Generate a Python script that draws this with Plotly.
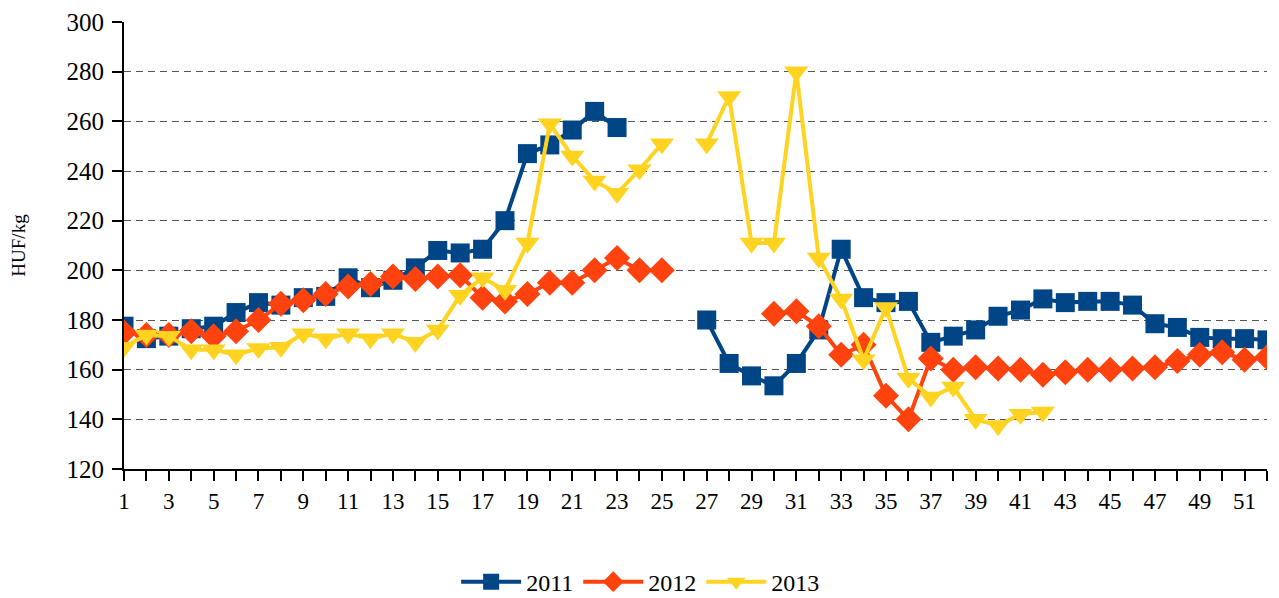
import plotly.graph_objects as go

weeks = list(range(1, 53))

y2011 = [177.5, 172.5, 173.5, 176.5, 177.5, 183, 187, 186, 189, 189.5,
         197, 193, 196, 201, 208, 207, 208.5, 220, 247, 250.5,
         256.5, 264, 257.5, None, None, None, 180, 162.5, 157.5, 153.5,
         162.5, 176, 208.5, 189, 187, 187.5, 171, 173.5, 176, 181.5,
         184, 188.5, 187, 187.5, 187.5, 186, 178.5, 177, 173, 172.5,
         172.5, 172]

y2012 = [175, 174, 174, 175.5, 173.5, 175.5, 180, 186.5, 188, 190.5,
         193.5, 194.5, 197.5, 196.5, 197.5, 198, 189, 187.5, 190.5, 195,
         195, 200, 205, 200, 200, None, None, None, None, 182.5,
         183.5, 177.5, 166, 170, 149.5, 140, 164.5, 160, 161, 160.5,
         160, 158, 159, 160, 160, 160.5, 161, 163.5, 166, 167,
         164, 165]

y2013 = [169, 174, 173.5, 168, 168, 166, 168.5, 169, 174.5, 172.5,
         174.5, 172.5, 174.5, 171, 176, 190, 197, 192, 211, 259,
         246, 236, 231, 240.5, 251, None, 251, 270, 211, 211,
         280, 205, 188.5, 164, 185, 156.5, 149, 153, 140, 137.5,
         142, 143, None, None, None, None, None, None, None, None,
         None, None]

series = [
    ("2011", y2011, "#004586", "square", 19),
    ("2012", y2012, "#FF420E", "diamond", 20),
    ("2013", y2013, "#FFD320", "triangle-down", 21),
]

tick_vals = list(range(1, 52, 2))
tick_text = [str(v) for v in tick_vals]
y_ticks = list(range(120, 301, 20))

fig = go.Figure()
for name, ys, color, symbol, size in series:
    fig.add_trace(go.Scatter(
        x=weeks, y=ys, name=name, mode="lines+markers",
        connectgaps=False,
        line=dict(color=color, width=4),
        marker=dict(symbol=symbol, size=size, color=color,
                    line=dict(width=0)),
    ))

font_family = "'Liberation Serif', 'Times New Roman', serif"

# page body has an 8px default margin, so margins are offset by 8px
fig.update_layout(
    width=1279, height=598,
    margin=dict(l=116, r=20, t=14, b=137, autoexpand=False),
    paper_bgcolor="white", plot_bgcolor="white",
    font=dict(family=font_family, color="black", size=22),
    showlegend=True,
    legend=dict(orientation="h", x=0.452, xanchor="center",
                y=-0.253, yanchor="middle",
                font=dict(size=24, family=font_family),
                itemwidth=60, bgcolor="rgba(0,0,0,0)"),
    xaxis=dict(
        range=[1, 52], tickmode="array", tickvals=tick_vals, ticktext=tick_text,
        ticks="outside", ticklen=10, tickwidth=2, tickcolor="black",
        showline=True, linecolor="black", linewidth=2,
        showgrid=False, zeroline=False, automargin=False,
        tickfont=dict(size=23, family=font_family),
        minor=dict(tickmode="linear", tick0=1, dtick=1, ticks="outside",
                   ticklen=10, tickwidth=2, tickcolor="black", showgrid=False),
    ),
    yaxis=dict(
        range=[120, 300], tickmode="array", tickvals=y_ticks,
        ticks="outside", ticklen=10, tickwidth=2, tickcolor="black",
        showline=True, linecolor="black", linewidth=2,
        showgrid=True, gridcolor="#555555", gridwidth=1, griddash="7px,5px",
        zeroline=False, automargin=False, ticklabelstandoff=3,
        tickfont=dict(size=25, family=font_family),
        title=dict(text="HUF/kg", font=dict(size=19, family=font_family),
                   standoff=36),
    ),
)

fig.write_html("out.html")
